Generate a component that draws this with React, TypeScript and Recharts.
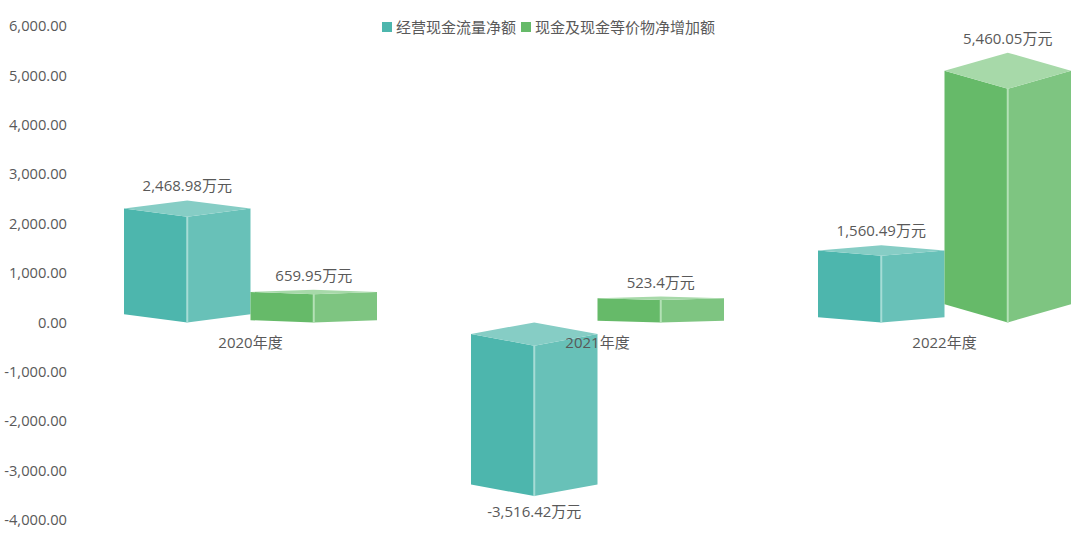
import { Bar, BarChart, LabelList, Legend, XAxis, YAxis } from 'recharts';

const categories = ['2020年度', '2021年度', '2022年度'];
const operatingCash = [2468.98, -3516.42, 1560.49];
const cashIncrease = [659.95, 523.4, 5460.05];
const yTicks = [-4000, -3000, -2000, -1000, 0, 1000, 2000, 3000, 4000, 5000, 6000];

const seriesNames = ['经营现金流量净额', '现金及现金等价物净增加额'];
const teal = { left: '#4db6ad', right: '#68c1b8', top: '#86cdc5', edge: '#a6dcd6' };
const green = { left: '#66ba69', right: '#7ec581', top: '#a7d9a9', edge: '#b4e1b6' };

const data = categories.map((name, i) => ({
  name,
  operating: operatingCash[i],
  increase: cashIncrease[i],
}));

const FONT = '"Open Sans", "Noto Sans CJK SC", sans-serif';
const TEXT = '#595959';
const LEGEND_HEIGHT = 20;
const PLOT_TOP = 26;
const PLOT_HEIGHT = 494;
const zeroY = PLOT_TOP + PLOT_HEIGHT * 0.6;

const formatNumber = (value: number): string =>
  value.toLocaleString('en-US', { minimumFractionDigits: 2, maximumFractionDigits: 2 });

const formatLabel = (value: number): string =>
  `${value.toLocaleString('en-US', { maximumFractionDigits: 2 })}万元`;

const makeBox = (colors: typeof teal) => (props: any) => {
  const { x, y, width, height } = props;
  const top = Math.min(y, y + height);
  const bottom = Math.max(y, y + height);
  const d = (bottom - top) * 0.067;
  const mid = x + width / 2;
  const right = x + width;
  return (
    <g>
      <polygon
        points={`${x},${top + d} ${mid},${top + 2 * d} ${mid},${bottom} ${x},${bottom - d}`}
        fill={colors.left}
      />
      <polygon
        points={`${mid},${top + 2 * d} ${right},${top + d} ${right},${bottom - d} ${mid},${bottom}`}
        fill={colors.right}
      />
      <polygon
        points={`${x},${top + d} ${mid},${top} ${right},${top + d} ${mid},${top + 2 * d}`}
        fill={colors.top}
      />
      <line x1={mid} y1={top + 2 * d} x2={mid} y2={bottom} stroke={colors.edge} strokeWidth={2} />
    </g>
  );
};

const BoxLabel = (props: any) => {
  const { x, y, width, height, value } = props;
  const top = Math.min(y, y + height);
  const bottom = Math.max(y, y + height);
  const ly = value < 0 ? bottom + 15 : top - 15;
  return (
    <text
      x={x + width / 2}
      y={ly}
      textAnchor="middle"
      dominantBaseline="central"
      fontSize={15}
      fontFamily={FONT}
      fill={TEXT}
    >
      {formatLabel(value)}
    </text>
  );
};

const CategoryTick = (props: any) => (
  <text
    x={props.x}
    y={zeroY + 20}
    textAnchor="middle"
    dominantBaseline="central"
    fontSize={15}
    fontFamily={FONT}
    fill={TEXT}
  >
    {props.payload.value}
  </text>
);

const LegendRow = () => (
  <div style={{ display: 'flex', alignItems: 'center', fontFamily: FONT, fontSize: 15, color: TEXT, lineHeight: '20px', whiteSpace: 'nowrap' }}>
    <span style={{ width: 10, height: 10, background: teal.left, marginRight: 4 }} />
    <span style={{ marginRight: 5 }}>{seriesNames[0]}</span>
    <span style={{ width: 10, height: 10, background: green.left, marginRight: 4 }} />
    <span>{seriesNames[1]}</span>
  </div>
);

export default function App() {
  return (
    <div style={{ position: 'absolute', left: 0, top: 0, width: 1080, height: 536, overflow: 'hidden', background: '#fff' }}>
      <BarChart
        width={1118}
        height={536}
        data={data}
        barSize={126.5}
        barGap={0}
        margin={{ top: PLOT_TOP - LEGEND_HEIGHT, right: 0, bottom: 536 - PLOT_TOP - PLOT_HEIGHT - 1, left: 0 }}
      >
        <Legend
          verticalAlign="top"
          content={<LegendRow />}
          wrapperStyle={{ position: 'absolute', left: 382, top: 17, width: 'auto', height: LEGEND_HEIGHT }}
        />
        <YAxis
          width={77}
          domain={[-4000, 6000]}
          ticks={yTicks}
          interval={0}
          axisLine={false}
          tickLine={false}
          tickMargin={4}
          tickFormatter={formatNumber}
          tick={{ fontSize: 14.7, fontFamily: FONT, fill: TEXT }}
        />
        <XAxis dataKey="name" height={1} axisLine={false} tickLine={false} interval={0} tick={<CategoryTick />} />
        <Bar dataKey="operating" name={seriesNames[0]} fill={teal.left} shape={makeBox(teal)} isAnimationActive={false}>
          <LabelList dataKey="operating" content={<BoxLabel />} />
        </Bar>
        <Bar dataKey="increase" name={seriesNames[1]} fill={green.left} shape={makeBox(green)} isAnimationActive={false}>
          <LabelList dataKey="increase" content={<BoxLabel />} />
        </Bar>
      </BarChart>
    </div>
  );
}
